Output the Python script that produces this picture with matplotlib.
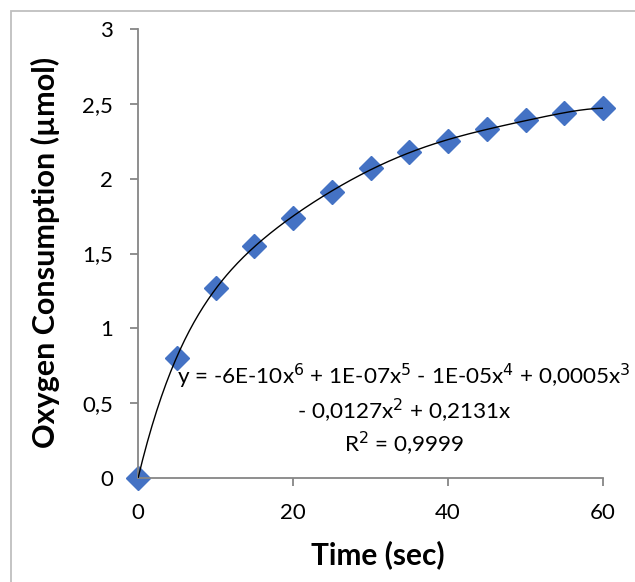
"""Oxygen consumption over time with a 6th-order polynomial trendline."""

import matplotlib

matplotlib.use("Agg")
import matplotlib.pyplot as plt
import numpy as np
from matplotlib.patches import Rectangle
from matplotlib.ticker import FuncFormatter, MultipleLocator

plt.rcParams["font.family"] = ["Lato", "DejaVu Sans"]

time_sec = [0, 5, 10, 15, 20, 25, 30, 35, 40, 45, 50, 55, 60]
oxygen_umol = [0.0, 0.80, 1.27, 1.55, 1.74, 1.91, 2.07, 2.18, 2.25, 2.33, 2.39, 2.44, 2.47]

equation_text = ("y = -6E-10x$^6$ + 1E-07x$^5$ - 1E-05x$^4$ + 0,0005x$^3$\n"
                 "- 0,0127x$^2$ + 0,2131x\n"
                 "R$^2$ = 0,9999")

AXIS_GREY = "#868686"
BLUE = "#4472C4"


def comma_fmt(v, pos):
    s = f"{v:g}"
    return s.replace(".", ",")


fig = plt.figure(figsize=(6.35, 5.82), dpi=100)
fig.patches.append(Rectangle((11 / 635, -0.05), 1.1, 1.05 - 11 / 582,
                             transform=fig.transFigure, fill=False,
                             edgecolor="#BFBFBF", linewidth=1.3))

ax = fig.add_axes([138 / 635, 1 - 478 / 582, (603 - 138) / 635, (478 - 29) / 582])

# Polynomial trendline (degree 6) fitted to the data
coef = np.polyfit(time_sec, oxygen_umol, 6)
xs = np.linspace(0, 60, 300)
ax.plot(xs, np.polyval(coef, xs), color="black", linewidth=1.0, zorder=3)

ax.plot(time_sec, oxygen_umol, linestyle="none", marker="D", markersize=12,
        color=BLUE, zorder=2, clip_on=False)

ax.set_xlim(0, 60)
ax.set_ylim(0, 3)
ax.xaxis.set_major_locator(MultipleLocator(20))
ax.yaxis.set_major_locator(MultipleLocator(0.5))
ax.yaxis.set_major_formatter(FuncFormatter(comma_fmt))

for side in ("top", "right"):
    ax.spines[side].set_visible(False)
for side in ("left", "bottom"):
    ax.spines[side].set_color(AXIS_GREY)
    ax.spines[side].set_linewidth(1.3)
ax.tick_params(direction="out", length=6, width=1.3, color=AXIS_GREY,
               labelsize=16, pad=12, labelcolor="black")

ax.set_xlabel("Time (sec)", fontsize=21.5, fontweight="bold", va="center")
ax.xaxis.set_label_coords((378 - 138) / 465, (478 - 555) / 449)
ax.set_ylabel("Oxygen Consumption (µmol)", fontsize=22, fontweight="bold", va="center")
ax.yaxis.set_label_coords((45 - 138) / 465, (478 - 252) / 449)

ax.text(404 / 635, 1 - 410 / 582, equation_text, transform=fig.transFigure,
        ha="center", va="center", fontsize=16.2, linespacing=1.25, zorder=4)

fig.savefig("out.png", dpi=100)
